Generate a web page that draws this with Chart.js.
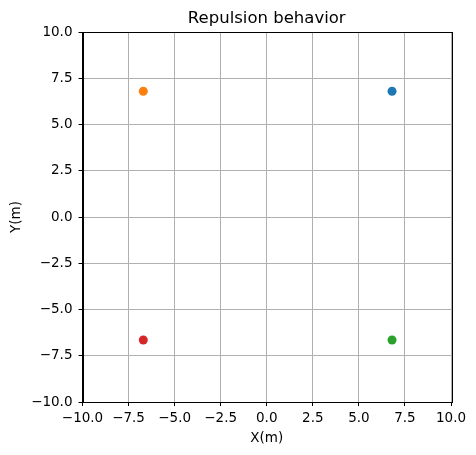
<!DOCTYPE html>
<html>
<head>
<meta charset="utf-8">
<script src="https://cdn.jsdelivr.net/npm/chart.js@4/dist/chart.umd.min.js"></script>
<style>
  html, body { margin: 0; padding: 0; background: #fff; }
  canvas { display: block; }
</style>
</head>
<body>
<canvas id="plot" width="476" height="455"></canvas>
<script>
// Agent positions
const agentNames = ['agent 1', 'agent 2', 'agent 3', 'agent 4'];
const agentX = [6.8, -6.7, 6.8, -6.7];
const agentY = [6.8, 6.8, -6.65, -6.65];
const agentColors = ['#1f77b4', '#ff7f0e', '#2ca02c', '#d62728'];
const axisMin = -10;
const axisMax = 10;
const tickStep = 2.5;

const fmt = v => v.toFixed(1).replace('-', '\u2212');

// black box round the plot area, like matplotlib spines,
// and the title centred over the plot area rather than the canvas
const frame = {
  id: 'frame',
  afterLayout(chart) {
    const t = chart.titleBlock;
    if (t) {
      t.left = chart.chartArea.left;
      t.right = chart.chartArea.right;
      t.width = t.right - t.left;
    }
  },
  afterDraw(chart) {
    const a = chart.chartArea;
    const c = chart.ctx;
    c.save();
    c.strokeStyle = '#000';
    c.lineWidth = 1;
    c.strokeRect(Math.round(a.left) + 0.5, Math.round(a.top) + 0.5,
      Math.round(a.right - a.left), Math.round(a.bottom - a.top));
    c.restore();
  }
};

const font = { family: 'DejaVu Sans', size: 13.5 };

const ctx = document.getElementById('plot').getContext('2d');
const chart = new Chart(ctx, {
  type: 'scatter',
  data: {
    datasets: agentNames.map((name, i) => ({
      label: name,
      data: [{ x: agentX[i], y: agentY[i] }],
      backgroundColor: agentColors[i],
      borderColor: agentColors[i],
      pointRadius: 4.5,
      borderWidth: 0
    }))
  },
  options: {
    responsive: false,
    animation: false,
    layout: { padding: { left: 0, right: 25, top: 0, bottom: 0 } },
    plugins: {
      legend: { display: false },
      tooltip: { enabled: false },
      title: {
        display: true,
        text: 'Repulsion behavior',
        color: '#000',
        font: { family: 'DejaVu Sans', size: 16.5, weight: 'normal' },
        padding: { top: 9, bottom: 3.2 }
      }
    },
    scales: {
      x: {
        type: 'linear',
        min: axisMin,
        max: axisMax,
        afterFit(scale) { scale.height = 53; },
        ticks: {
          stepSize: tickStep,
          color: '#000',
          font: font,
          padding: 4,
          maxRotation: 0,
          callback: v => fmt(v)
        },
        grid: { color: '#b0b0b0', lineWidth: 1, tickColor: '#000', tickLength: 4 },
        border: { color: '#000' },
        title: { display: true, text: 'X(m)', color: '#000', font: font, padding: { top: 0, bottom: 8.6 } }
      },
      y: {
        type: 'linear',
        min: axisMin,
        max: axisMax,
        afterFit(scale) { scale.width = 82.5; },
        ticks: {
          stepSize: tickStep,
          color: '#000',
          font: font,
          padding: 6,
          callback: v => fmt(v)
        },
        grid: { color: '#b0b0b0', lineWidth: 1, tickColor: '#000', tickLength: 4 },
        border: { color: '#000' },
        title: { display: true, text: 'Y(m)', color: '#000', font: font, padding: { top: 8.2, bottom: 0 } }
      }
    }
  },
  plugins: [frame]
});
</script>
</body>
</html>
